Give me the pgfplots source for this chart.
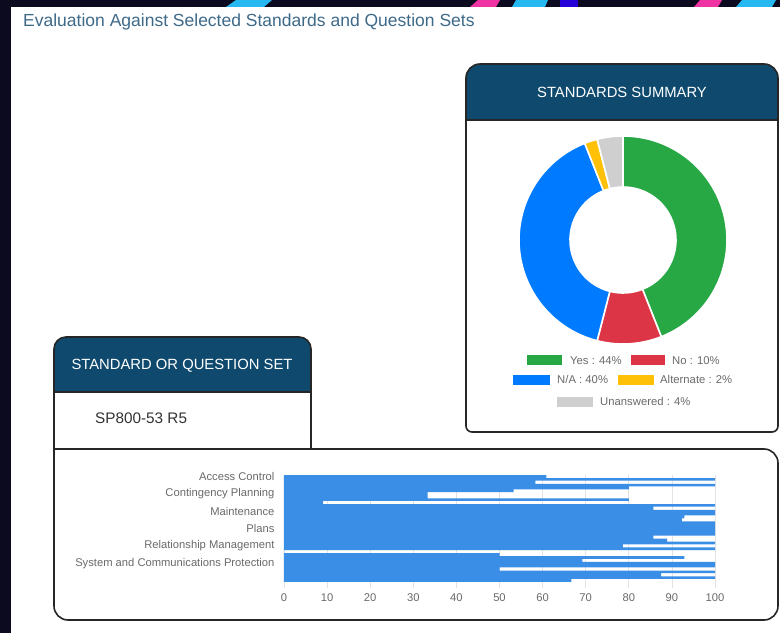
\documentclass[border=0pt]{standalone}
\usepackage{pgfplots}
\pgfplotsset{compat=1.18}
\usepackage{pgfplotstable}
\usepackage{fontspec}
\setmainfont{Liberation Sans}

\definecolor{frame}{HTML}{0C0A1E}
\definecolor{hdr}{HTML}{0F4A6E}
\definecolor{titleblue}{HTML}{3E6A8A}
\definecolor{barblue}{HTML}{3A8EE6}
\definecolor{gridgray}{HTML}{E3E3E3}
\definecolor{labelgray}{HTML}{6A6A6A}
\definecolor{boxline}{HTML}{262626}
\definecolor{donut0}{HTML}{28A745}
\definecolor{donut1}{HTML}{DC3545}
\definecolor{donut2}{HTML}{007BFF}
\definecolor{donut3}{HTML}{FFC107}
\definecolor{donut4}{HTML}{CFCFCF}

% bar chart data: one row per bar, top to bottom
\pgfplotstableread{
i v
0 60.9
1 100
2 58.3
3 100
4 80
5 53.3
6 33.3
7 33.3
8 80
9 9.1
10 100
11 85.7
12 100
13 100
14 92.9
15 92.3
16 100
17 100
18 100
19 100
20 100
21 85.7
22 88.9
23 100
24 78.6
25 100
26 0
27 50
28 92.9
29 69.2
30 100
31 100
32 50
33 100
34 87.5
35 100
36 66.7
}\bardata

% donut data
\pgfplotstableread[col sep=comma]{
label,value
Yes,44
No,10
N/A,40
Alternate,2
Unanswered,4
}\donutdata

\def\donutcum{0}
\gdef\allslices{}
\pgfplotsforeachungrouped \i in {0,...,4}{%
  \pgfplotstablegetelem{\i}{value}\of\donutdata
  \pgfmathsetmacro\sa{90-3.6*\donutcum}%
  \pgfmathsetmacro\donutcum{\donutcum+\pgfplotsretval}%
  \pgfmathsetmacro\sb{90-3.6*\donutcum}%
  \xdef\allslices{\unexpanded\expandafter{\allslices}\noexpand\fill[donut\i,draw=white,line width=1.6pt] ([shift={(\sa:104pt)}]axis cs:0,0) arc[start angle=\sa,end angle=\sb,radius=104pt] -- ([shift={(\sb:53pt)}]axis cs:0,0) arc[start angle=\sb,end angle=\sa,radius=53pt] -- cycle;}%
}

\begin{document}
\begin{tikzpicture}[x=1pt,y=1pt]
% frame and page
\fill[frame] (0,0) rectangle (780,633);
\fill[white] (11,0) rectangle (780,626);
\fill[cyan!85!white] (226,626) -- (236,633) -- (272,633) -- (264,626) -- cycle;
\fill[magenta!80!white] (470,626) -- (478,633) -- (500,633) -- (496,626) -- cycle;
\fill[cyan!85!white] (512,626) -- (516,633) -- (548,633) -- (545,626) -- cycle;
\fill[blue!70!violet] (560,626) rectangle (578,633);
\fill[magenta!80!white] (694,626) -- (700,633) -- (722,633) -- (718,626) -- cycle;
\fill[cyan!85!white] (736,626) -- (742,633) -- (776,633) -- (772,626) -- cycle;

% title
\node[anchor=base west, inner sep=0, text=titleblue, font=\fontsize{17.5}{20}\selectfont] at (23,606.5) {Evaluation Against Selected Standards and Question Sets};

% standards summary box
\fill[white] (466,207) -- (466,555) arc[start angle=180,end angle=90,radius=14pt] -- (764,569) arc[start angle=90,end angle=0,radius=14pt] -- (778,207) arc[start angle=0,end angle=-90,radius=6pt] -- (472,201) arc[start angle=270,end angle=180,radius=6pt] -- cycle;
\fill[hdr] (466,513) -- (466,555) arc[start angle=180,end angle=90,radius=14pt] -- (764,569) arc[start angle=90,end angle=0,radius=14pt] -- (778,513) -- cycle;
\draw[boxline, line width=1.6pt] (466,513) -- (778,513);
\draw[boxline, line width=1.6pt] (466,207) -- (466,555) arc[start angle=180,end angle=90,radius=14pt] -- (764,569) arc[start angle=90,end angle=0,radius=14pt] -- (778,207) arc[start angle=0,end angle=-90,radius=6pt] -- (472,201) arc[start angle=270,end angle=180,radius=6pt] -- cycle;
\node[text=white, inner sep=0, font=\fontsize{14.8}{17}\selectfont] at (622,541) {STANDARDS SUMMARY};

% donut
\begin{axis}[at={(623pt,393pt)}, anchor=center, x=1pt, y=1pt,
  xmin=-110, xmax=110, ymin=-110, ymax=110, hide axis, clip=false]
\allslices
\end{axis}

% donut legend
\begin{scope}[every node/.style={anchor=base west, inner sep=0, text=labelgray, font=\fontsize{11.3}{13}\selectfont}]
\fill[donut0] (527,268) rectangle (562,278); \node at (570,269) {Yes : 44\%};
\fill[donut1] (631,268) rectangle (665,278); \node at (672,269) {No : 10\%};
\fill[donut2] (513,248) rectangle (550,258); \node at (557,249) {N/A : 40\%};
\fill[donut3] (618,248) rectangle (654,258); \node at (660,249) {Alternate : 2\%};
\fill[donut4] (557,226) rectangle (593,236); \node at (600,227) {Unanswered : 4\%};
\end{scope}

% standard or question set box
\fill[hdr] (54,241) -- (54,284) arc[start angle=180,end angle=90,radius=12pt] -- (299,296) arc[start angle=90,end angle=0,radius=12pt] -- (311,241) -- cycle;
\draw[boxline, line width=1.6pt] (54,241) -- (311,241);
\draw[boxline, line width=1.6pt] (54,184) -- (54,284) arc[start angle=180,end angle=90,radius=12pt] -- (299,296) arc[start angle=90,end angle=0,radius=12pt] -- (311,184);
\node[text=white, inner sep=0, font=\fontsize{14.8}{17}\selectfont] at (182,267) {STANDARD OR QUESTION SET};
\node[anchor=base west, inner sep=0, text=black!80, font=\fontsize{15.3}{18}\selectfont] at (95,209.5) {SP800-53 R5};

% bar panel
\draw[boxline, line width=1.6pt] (54,184) -- (764,184) arc[start angle=90,end angle=0,radius=14pt] -- (778,27) arc[start angle=0,end angle=-90,radius=14pt] -- (68,13) arc[start angle=270,end angle=180,radius=14pt] -- cycle;

\begin{axis}[at={(284pt,51pt)}, anchor=south west,
  scale only axis, width=431pt, height=107pt,
  xbar, bar width=0.92,
  xmin=0, xmax=100, ymin=-0.5, ymax=36.5, y dir=reverse,
  xtick={0,10,...,100}, ytick={0,6,12,18,24,30},
  yticklabels={Access Control,Contingency Planning,Maintenance,Plans,Relationship Management,System and Communications Protection},
  xmajorgrids, grid style={draw=gridgray, line width=0.8pt},
  axis line style={draw=none},
  tick align=outside, xtick pos=left, ytick pos=left,
  major tick length=6pt,
  x tick style={draw=gridgray, line width=0.8pt},
  y tick style={draw=none},
  tick label style={font=\fontsize{11.2}{13}\selectfont, text=labelgray},
  xticklabel style={yshift=-2pt},
  /pgf/number format/assume math mode=true,
]
\addplot[draw=none, fill=barblue] table[x=v, y=i] {\bardata};
\end{axis}
\end{tikzpicture}
\end{document}
